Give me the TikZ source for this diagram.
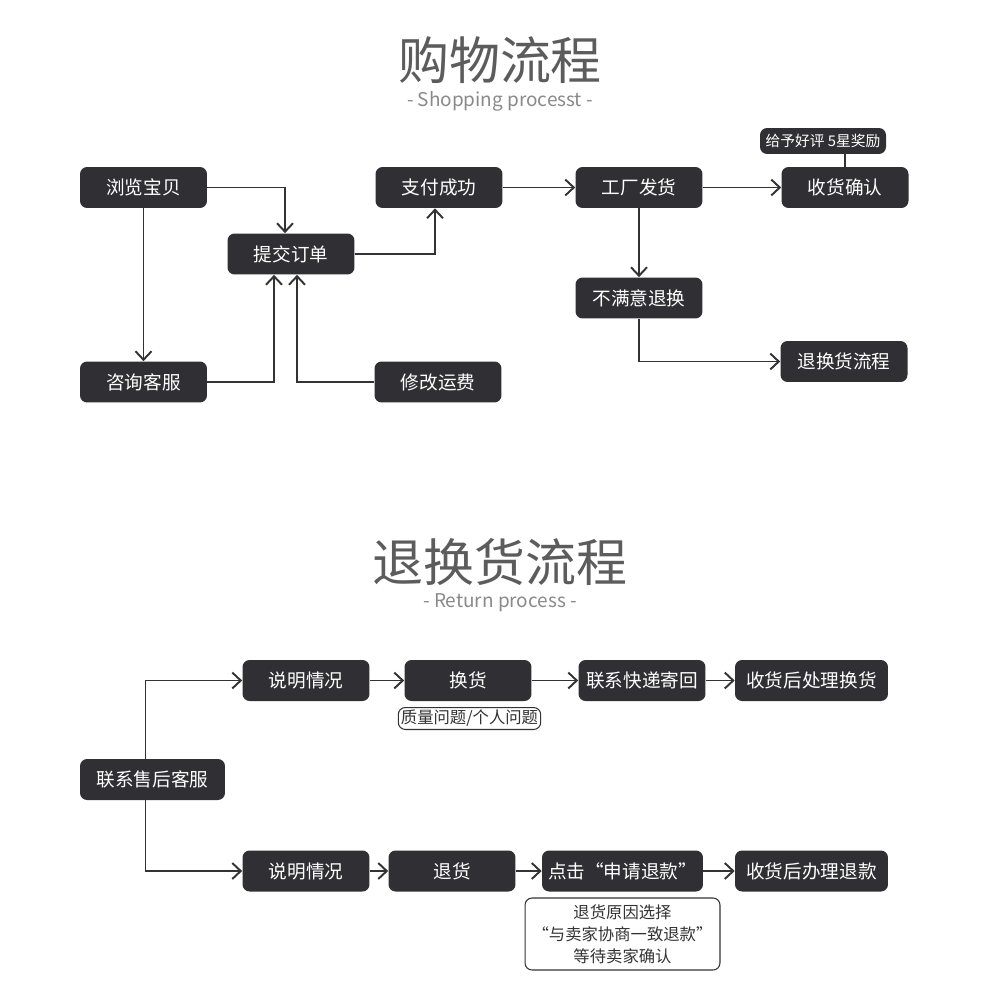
\documentclass[tikz,border=0pt]{standalone}
\usepackage{fontspec}
\setmainfont{Noto Sans CJK SC}
\usetikzlibrary{arrows.meta,calc}

\definecolor{boxgray}{HTML}{303034}
\definecolor{linegray}{HTML}{333333}
\definecolor{titlegray}{HTML}{5C5C5C}
\definecolor{subgray}{HTML}{8A8A8A}

\tikzset{
  stepbox/.style={draw=none, fill=boxgray, rounded corners=4pt, text=white,
    minimum width=2.54cm, minimum height=0.82cm, inner sep=0pt,
    font=\fontsize{10.6}{12}\selectfont},
  widebox/.style={stepbox, minimum width=3.06cm},
  tagbox/.style={stepbox, minimum width=2.52cm, minimum height=0.52cm,
    font=\fontsize{8.4}{10}\selectfont},
  notebox/.style={draw=linegray, fill=white, rounded corners=4pt, text=linegray,
    line width=0.6pt, inner sep=1.5pt, align=center},
  arr/.style={draw=linegray, line width=1.1pt, -{Straight Barb[length=1.7mm,width=3.2mm]}},
  plain/.style={draw=linegray, line width=1.1pt},
  title/.style={text=titlegray, font=\fontsize{29}{32}\selectfont},
  subtitle/.style={text=subgray, font=\fontsize{10.8}{12}\selectfont}
}

\begin{document}
\begin{tikzpicture}[x=0.02cm, y=-0.02cm]
\useasboundingbox[fill=white] (0,0) rectangle (1000,1000);

% Shopping process title
\node[title] (title1) at (500,60) {购物流程};
\node[subtitle] (sub1) at (500,101) {- Shopping processt -};

% Shopping process boxes
\node[stepbox] (browse) at (143.5,187.5) {浏览宝贝};
\node[stepbox] (order) at (291,254) {提交订单};
\node[stepbox] (pay) at (439,187.5) {支付成功};
\node[stepbox] (ship) at (639,187.5) {工厂发货};
\node[stepbox] (receive) at (845,187.5) {收货确认};
\node[tagbox] (praise) at (823,141) {给予好评 5星奖励};
\node[stepbox] (unhappy) at (639,298) {不满意退换};
\node[stepbox] (returnflow) at (844,361.5) {退换货流程};
\node[stepbox] (consult) at (143.5,382) {咨询客服};
\node[stepbox] (freight) at (438,382) {修改运费};

% Shopping process connectors
\draw[arr] (browse.east) -| ($(order.north)+(-6,0)$);
\draw[arr] (browse.south) -- (consult.north);
\draw[arr] (consult.east) -| ($(order.south)+(-17,0)$);
\draw[arr] (freight.west) -| ($(order.south)+(6,0)$);
\draw[arr] (order.east) -| ($(pay.south)+(-4,0)$);
\draw[arr] (pay) -- (ship);
\draw[arr] (ship) -- (receive);
\draw[arr] (ship.south) -- (unhappy.north);
\draw[arr] (unhappy.south) |- (returnflow.west);
\draw[plain] (praise.south -| receive.north) -- (receive.north);

% Return process title
\node[title] (title2) at (500,562) {退换货流程};
\node[subtitle] (sub2) at (500,603) {- Return process -};

% Return process boxes
\node[stepbox, minimum width=2.9cm] (contact) at (152.5,779.5) {联系售后客服};
\node[stepbox] (explainA) at (306,680.5) {说明情况};
\node[stepbox] (exchange) at (468,680.5) {换货};
\node[notebox, font=\fontsize{9.3}{11}\selectfont] (reason) at (469.5,718.5) {质量问题/个人问题};
\node[stepbox] (courier) at (642,680.5) {联系快递寄回};
\node[widebox] (doexchange) at (811.5,680.5) {收货后处理换货};
\node[stepbox] (explainB) at (306,871) {说明情况};
\node[stepbox] (refund) at (452,871) {退货};
\node[stepbox, minimum width=3.22cm] (apply) at (622.5,871) {点击“申请退款”};
\node[widebox] (dorefund) at (811.5,871) {收货后办理退款};
\node[notebox, minimum width=3.9cm, minimum height=1.44cm,
  font=\fontsize{9.3}{12.5}\selectfont] (agree) at (622.5,934)
  {退货原因选择\\“与卖家协商一致退款”\\等待卖家确认};

% Return process connectors
\draw[arr] ($(contact.north)+(-7,0)$) |- (explainA.west);
\draw[arr] ($(contact.south)+(-7,0)$) |- (explainB.west);
\draw[arr] (explainA) -- (exchange);
\draw[arr] (exchange) -- (courier);
\draw[arr] (courier) -- (doexchange);
\draw[arr] (explainB) -- (refund);
\draw[arr] (refund) -- (apply);
\draw[arr] (apply) -- (dorefund);

\end{tikzpicture}
\end{document}
